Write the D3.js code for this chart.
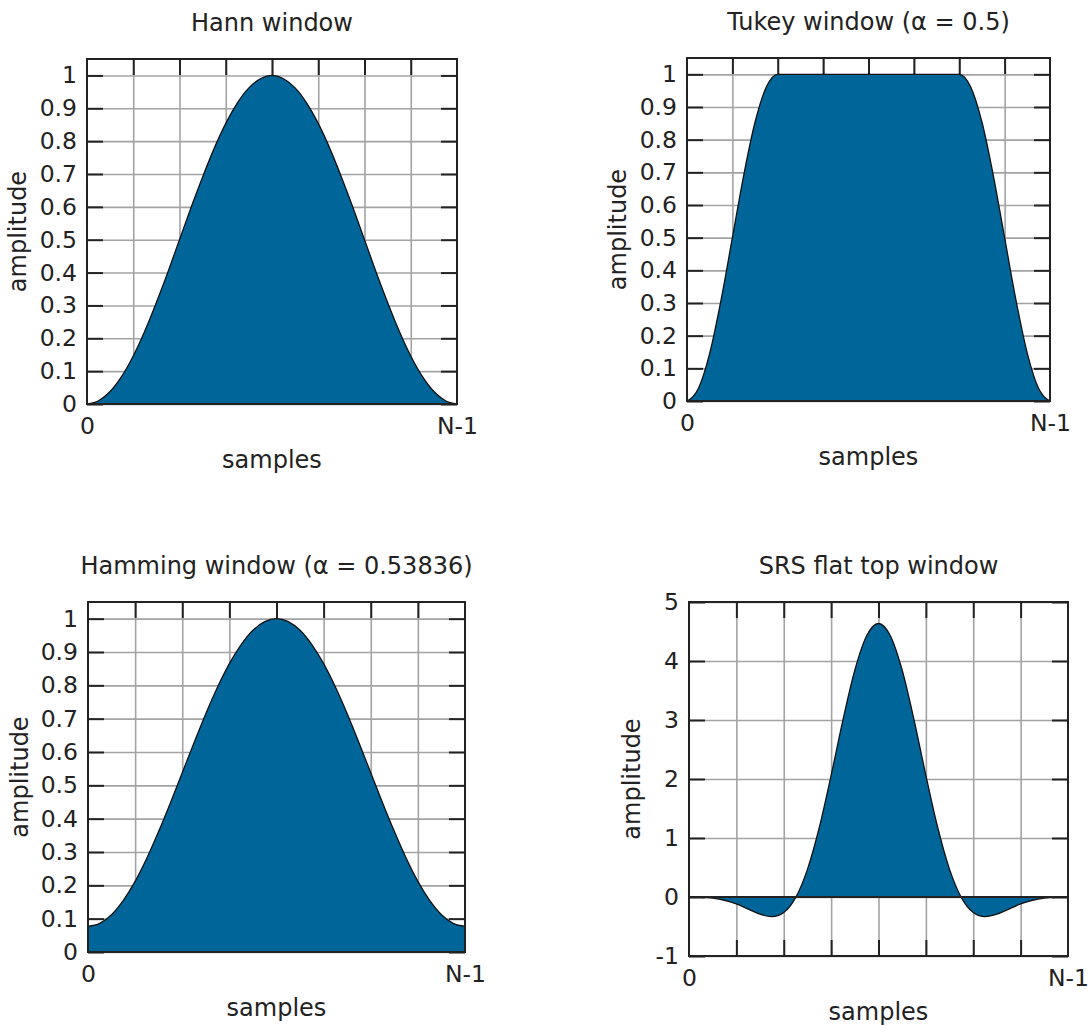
<!DOCTYPE html>
<html>
  <head>
    <title>window functions</title>
    <meta charset="utf-8">
    <style>
      body {
        padding: 0;
        margin: 0;
        background: #fff;
        font-family: 'DejaVu Sans', sans-serif;
      }
    </style>
  </head>
  <body>
    <div id="chart"></div>
    <script src="https://d3js.org/d3.v7.min.js"></script>
    <script>
      // 33 samples per window, index 0 .. N-1
      var hann = [0, 0.010, 0.038, 0.084, 0.146, 0.222, 0.309, 0.402, 0.5, 0.598, 0.691, 0.778, 0.854, 0.916, 0.962, 0.990, 1,
                  0.990, 0.962, 0.916, 0.854, 0.778, 0.691, 0.598, 0.5, 0.402, 0.309, 0.222, 0.146, 0.084, 0.038, 0.010, 0];
      var tukey = [0, 0.038, 0.146, 0.309, 0.5, 0.691, 0.854, 0.962, 1,
                   1, 1, 1, 1, 1, 1, 1, 1, 1, 1, 1, 1, 1, 1, 1,
                   1, 0.962, 0.854, 0.691, 0.5, 0.309, 0.146, 0.038, 0];
      var hamming = [0.077, 0.086, 0.112, 0.155, 0.212, 0.282, 0.362, 0.448, 0.538, 0.628, 0.715, 0.795, 0.865, 0.922, 0.965, 0.991, 1,
                     0.991, 0.965, 0.922, 0.865, 0.795, 0.715, 0.628, 0.538, 0.448, 0.362, 0.282, 0.212, 0.155, 0.112, 0.086, 0.077];
      var srsFlatTop = [0, -0.004, -0.019, -0.055, -0.118, -0.205, -0.292, -0.333, -0.262, -0.011, 0.468, 1.178, 2.062, 3.003, 3.844, 4.427, 4.636,
                        4.427, 3.844, 3.003, 2.062, 1.178, 0.468, -0.011, -0.262, -0.333, -0.292, -0.205, -0.118, -0.055, -0.019, -0.004, 0];

      var titles = ["Hann window", "Tukey window (\u03b1 = 0.5)", "Hamming window (\u03b1 = 0.53836)", "SRS flat top window"];
      var unitTicks = [0, 0.1, 0.2, 0.3, 0.4, 0.5, 0.6, 0.7, 0.8, 0.9, 1];
      var srsTicks = [-1, 0, 1, 2, 3, 4, 5];
      var xTickLabels = ["0", "N-1"];
      var xLabel = "samples",
          yLabel = "amplitude";

      var panels = [
        {title: titles[0], values: hann, yDomain: [0, 1.05], yTicks: unitTicks,
         box: {left: 87, right: 457, top: 59, bottom: 404}, yLabelX: -61},
        {title: titles[1], values: tukey, yDomain: [0, 1.05], yTicks: unitTicks,
         box: {left: 687, right: 1050, top: 58, bottom: 401}, yLabelX: -61},
        {title: titles[2], values: hamming, yDomain: [0, 1.05], yTicks: unitTicks,
         box: {left: 88, right: 465, top: 602, bottom: 952}, yLabelX: -60},
        {title: titles[3], values: srsFlatTop, yDomain: [-1, 5], yTicks: srsTicks,
         box: {left: 689, right: 1068, top: 602, bottom: 956}, yLabelX: -49}
      ];

      var fill = "#006699",
          ink = "#222",
          gridColor = "#a3a3a3",
          fontSize = 23.5,
          tickLen = 16;

      var svg = d3.select("#chart").append("svg")
        .attr("width", 1091)
        .attr("height", 1026);

      panels.forEach(function (p) {
        var w = p.box.right - p.box.left,
            h = p.box.bottom - p.box.top,
            n = p.values.length - 1;

        var g = svg.append("g")
          .attr("transform", "translate(" + p.box.left + "," + p.box.top + ")");

        var x = d3.scaleLinear().domain([0, n]).range([0, w]),
            y = d3.scaleLinear().domain(p.yDomain).range([h, 0]);

        var gridX = d3.range(n / 8, n, n / 8);

        // grid
        var gy = g.append("g").call(d3.axisLeft(y).tickValues(p.yTicks).tickSize(-w).tickFormat(""));
        var gx = g.append("g").call(d3.axisBottom(x).tickValues(gridX).tickSize(-h).tickFormat(""))
          .attr("transform", "translate(0," + h + ")");
        [gy, gx].forEach(function (a) {
          a.select(".domain").remove();
          a.selectAll(".tick line").attr("stroke", gridColor).attr("stroke-width", 1.6);
        });

        // tics, mirrored on all four sides, behind the filled curve
        var left = g.append("g").call(d3.axisLeft(y).tickValues(p.yTicks).tickSize(-tickLen).tickPadding(10).tickFormat(d => String(d)));
        var right = g.append("g").attr("transform", "translate(" + w + ",0)")
          .call(d3.axisRight(y).tickValues(p.yTicks).tickSize(-tickLen).tickFormat(""));
        var top = g.append("g").call(d3.axisTop(x).tickValues(gridX).tickSize(-tickLen).tickFormat(""));
        var bottom = g.append("g").attr("transform", "translate(0," + h + ")")
          .call(d3.axisBottom(x).tickValues(gridX).tickSize(-tickLen).tickFormat(""));
        var labels = g.append("g").attr("transform", "translate(0," + h + ")")
          .call(d3.axisBottom(x).tickValues([0, n]).tickSize(0).tickPadding(13).tickFormat((d, i) => xTickLabels[i]));

        [left, right, top, bottom, labels].forEach(function (a) {
          a.select(".domain").remove();
          a.attr("font-family", "'DejaVu Sans', sans-serif").attr("font-size", fontSize);
          a.selectAll(".tick line").attr("stroke", ink).attr("stroke-width", 2);
          a.selectAll(".tick text").attr("fill", ink);
        });

        // window shape
        var area = d3.area()
          .x((d, i) => x(i))
          .y0(y(0))
          .y1(d => y(d))
          .curve(d3.curveMonotoneX);
        var line = d3.line()
          .x((d, i) => x(i))
          .y(d => y(d))
          .curve(d3.curveMonotoneX);

        g.append("path")
          .datum(p.values)
          .attr("fill", fill)
          .attr("d", area);
        g.append("path")
          .datum(p.values)
          .attr("fill", "none")
          .attr("stroke", "#111")
          .attr("stroke-width", 1.3)
          .attr("d", line);

        if (p.yDomain[0] < 0) {
          g.append("line")
            .attr("x1", 0).attr("x2", w)
            .attr("y1", y(0)).attr("y2", y(0))
            .attr("stroke", ink)
            .attr("stroke-width", 1.8);
        }

        g.append("rect")
          .attr("width", w)
          .attr("height", h)
          .attr("fill", "none")
          .attr("stroke", ink)
          .attr("stroke-width", 2);

        // titles
        g.append("text")
          .attr("x", w / 2)
          .attr("y", -28)
          .attr("text-anchor", "middle")
          .attr("font-size", 24)
          .attr("fill", ink)
          .text(p.title);

        g.append("text")
          .attr("x", w / 2)
          .attr("y", h + 64)
          .attr("text-anchor", "middle")
          .attr("font-size", 24)
          .attr("fill", ink)
          .text(xLabel);

        g.append("text")
          .attr("transform", "translate(" + p.yLabelX + "," + (h / 2) + ") rotate(-90)")
          .attr("text-anchor", "middle")
          .attr("font-size", 24)
          .attr("fill", ink)
          .text(yLabel);
      });
    </script>
  </body>
</html>
